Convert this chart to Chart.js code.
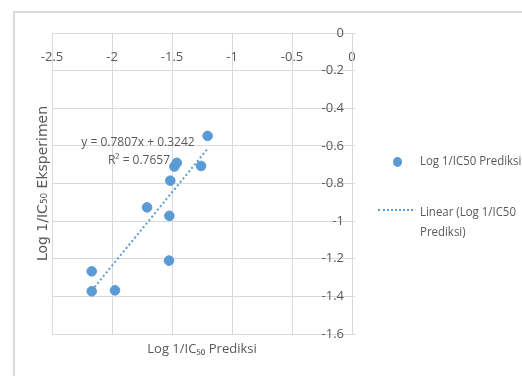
<!DOCTYPE html>
<html>
<head>
<meta charset="utf-8">
<script src="https://cdn.jsdelivr.net/npm/chart.js@4.4.1/dist/chart.umd.min.js"></script>
<style>
    body { margin: 0; background: #fff; }
    #wrap { position: relative; width: 522px; height: 376px; overflow: hidden; }
    #frame { position: absolute; left: 13px; top: 11px; width: 600px; height: 500px;
             border-top: 2px solid #d9d9d9; border-left: 2px solid #d9d9d9; }
    canvas { position: absolute; left: 0; top: 0; }
    .legend { position: absolute; font-family: "Open Sans", sans-serif; white-space: nowrap;
              font-size: 13px; color: #595959; line-height: 20px;
              transform: scaleX(0.88); transform-origin: 0 0; }
    .dot { position: absolute; width: 9px; height: 10px; border-radius: 50%; background: #5b9bd5; }
    .dash { position: absolute; width: 35px; height: 0; border-top: 2px dotted #5b9bd5; }
</style>
</head>
<body>
<div id="wrap">
    <div id="frame"></div>
    <canvas id="scatterChart" width="522" height="376"></canvas>
    <div class="dot" style="left:393px; top:157px;"></div>
    <div class="legend" style="left:420px; top:150px;">Log 1/IC50 Prediksi</div>
    <div class="dash" style="left:378px; top:209px;"></div>
    <div class="legend" style="left:420px; top:201px;">Linear (Log 1/IC50<br>Prediksi)</div>
</div>
<script>

const predicted = [-1.203, -1.48, -1.46, -1.258, -1.514, -1.708, -1.522, -1.525, -2.169, -2.169, -1.975];
const experimental = [-0.547, -0.71, -0.69, -0.707, -0.785, -0.927, -0.972, -1.21, -1.267, -1.373, -1.368];

const xTicks = [-2.5, -2, -1.5, -1, -0.5, 0];
const yTicks = [0, -0.2, -0.4, -0.6, -0.8, -1, -1.2, -1.4, -1.6];

// trendline as printed on the chart
const slope = 0.7807;
const intercept = 0.3242;
const rSquared = 0.7657;

const BLUE = "#5b9bd5";
const GRAY = "#595959";
const GRID = "#d9d9d9";
const SANS = "'Open Sans', sans-serif";

const points = predicted.map((x, i) => ({ x: x, y: experimental[i] }));
const xMin = Math.min(...predicted);
const xMax = Math.max(...predicted);
const trend = [
    { x: xMin, y: slope * xMin + intercept },
    { x: xMax, y: slope * xMax + intercept }
];

const equationLabel = {
    id: "equationLabel",
    beforeDatasetsDraw(chart) {
        const ctx = chart.ctx;
        ctx.save();
        ctx.font = "12px " + SANS;
        ctx.fillStyle = GRAY;
        ctx.textAlign = "center";
        ctx.textBaseline = "middle";
        ctx.fillText("y = " + slope + "x + " + intercept, 138, 143);
        ctx.fillText("R² = " + rSquared, 139, 161);
        ctx.restore();
    }
};

function noPadding(scale) {
    scale.paddingLeft = 0;
    scale.paddingRight = 0;
    scale.paddingTop = 0;
    scale.paddingBottom = 0;
}

function plainTick(value) {
    return String(Number(value.toFixed(2)));
}

new Chart(document.getElementById("scatterChart"), {
    type: "scatter",
    data: {
        datasets: [
            {
                label: "Linear (Log 1/IC50 Prediksi)",
                data: trend,
                showLine: true,
                borderColor: BLUE,
                borderWidth: 2,
                borderDash: [2, 2.5],
                pointRadius: 0,
                order: 0
            },
            {
                label: "Log 1/IC50 Prediksi",
                data: points,
                backgroundColor: BLUE,
                borderColor: BLUE,
                pointRadius: 4.8,
                order: 1
            }
        ]
    },
    options: {
        responsive: false,
        animation: false,
        layout: {
            padding: { left: 35, right: 167, top: 33, bottom: 19 }
        },
        scales: {
            x: {
                type: "linear",
                position: "top",
                min: xTicks[0],
                max: xTicks[xTicks.length - 1],
                ticks: {
                    stepSize: 0.5,
                    mirror: true,
                    padding: 16,
                    color: GRAY,
                    font: { family: SANS, size: 13 },
                    callback: plainTick
                },
                grid: { color: GRID, drawTicks: false },
                border: { color: GRID },
                afterFit(scale) { scale.height = 0; noPadding(scale); }
            },
            y: {
                type: "linear",
                position: "right",
                min: yTicks[yTicks.length - 1],
                max: yTicks[0],
                ticks: {
                    stepSize: 0.2,
                    mirror: true,
                    padding: -8,
                    color: GRAY,
                    font: { family: SANS, size: 13 },
                    callback: plainTick
                },
                grid: { color: GRID, tickLength: 3 },
                border: { color: GRID },
                afterFit(scale) { scale.width = 3; noPadding(scale); }
            },
            x2: {
                type: "linear",
                position: "bottom",
                min: 0, max: 1,
                ticks: { display: false },
                grid: { display: false, drawTicks: false },
                border: { display: false },
                title: {
                    display: true,
                    text: "Log 1/IC₅₀ Prediksi",
                    color: GRAY,
                    padding: 0,
                    font: { family: SANS, size: 13 }
                },
                afterFit(scale) { scale.height = 23; noPadding(scale); }
            },
            y2: {
                type: "linear",
                position: "left",
                min: 0, max: 1,
                ticks: { display: false },
                grid: { display: false, drawTicks: false },
                border: { display: false },
                title: {
                    display: true,
                    text: "Log 1/IC₅₀ Eksperimen",
                    color: GRAY,
                    padding: 0,
                    font: { family: "'DejaVu Sans', sans-serif", size: 14 }
                },
                afterFit(scale) { scale.width = 17; noPadding(scale); }
            }
        },
        plugins: {
            legend: { display: false },
            tooltip: { enabled: false }
        }
    },
    plugins: [equationLabel]
});
</script>
</body>
</html>
